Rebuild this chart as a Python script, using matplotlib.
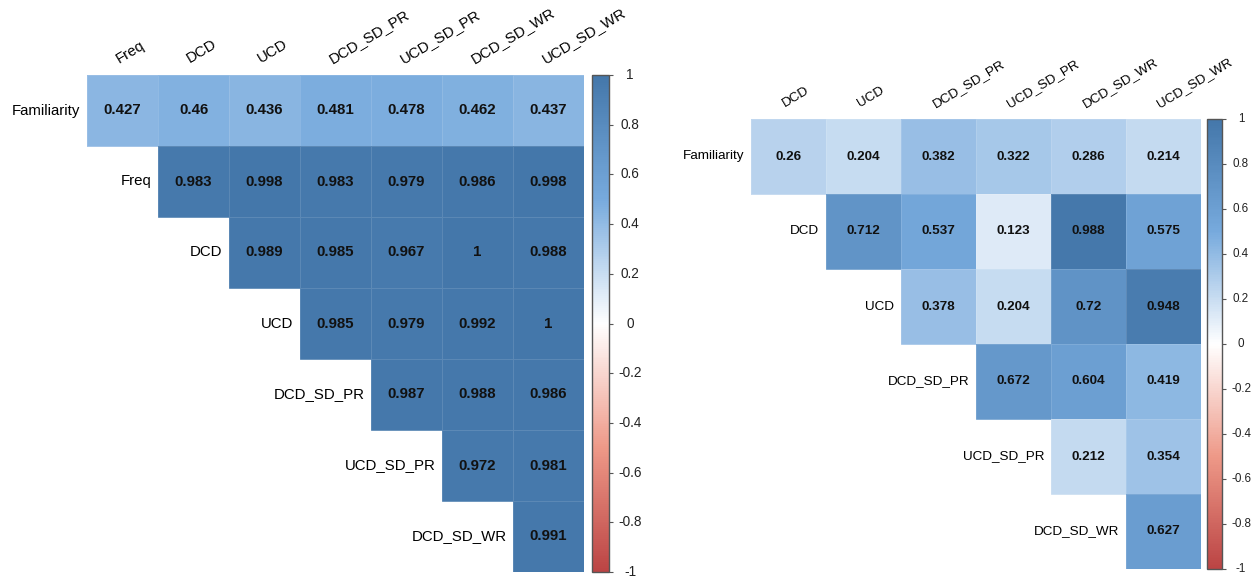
import numpy as np
import matplotlib
matplotlib.use("Agg")
import matplotlib.pyplot as plt
from matplotlib.colors import LinearSegmentedColormap, Normalize
from matplotlib.cm import ScalarMappable

plt.rcParams['font.family'] = ['Liberation Sans', 'DejaVu Sans']

# left matrix: upper triangle rows, each starting on the diagonal
left_rows = ['Familiarity', 'Freq', 'DCD', 'UCD', 'DCD_SD_PR', 'UCD_SD_PR', 'DCD_SD_WR']
left_cols = ['Freq', 'DCD', 'UCD', 'DCD_SD_PR', 'UCD_SD_PR', 'DCD_SD_WR', 'UCD_SD_WR']
left_vals = [
    [0.427, 0.46, 0.436, 0.481, 0.478, 0.462, 0.437],
    [0.983, 0.998, 0.983, 0.979, 0.986, 0.998],
    [0.989, 0.985, 0.967, 1, 0.988],
    [0.985, 0.979, 0.992, 1],
    [0.987, 0.988, 0.986],
    [0.972, 0.981],
    [0.991],
]

# right matrix
right_rows = ['Familiarity', 'DCD', 'UCD', 'DCD_SD_PR', 'UCD_SD_PR', 'DCD_SD_WR']
right_cols = ['DCD', 'UCD', 'DCD_SD_PR', 'UCD_SD_PR', 'DCD_SD_WR', 'UCD_SD_WR']
right_vals = [
    [0.26, 0.204, 0.382, 0.322, 0.286, 0.214],
    [0.712, 0.537, 0.123, 0.988, 0.575],
    [0.378, 0.204, 0.72, 0.948],
    [0.672, 0.604, 0.419],
    [0.212, 0.354],
    [0.627],
]

cbar_ticks = [-1, -0.8, -0.6, -0.4, -0.2, 0, 0.2, 0.4, 0.6, 0.8, 1]

cmap = LinearSegmentedColormap.from_list(
    'corr', ['#BB4444', '#EE9988', '#FFFFFF', '#77AADD', '#4477AA'], N=256)
norm = Normalize(-1, 1)

W, H = 1255, 577
fig = plt.figure(figsize=(W / 100, H / 100), dpi=100)


def px_axes(x, y, w, h):
    return fig.add_axes([x / W, (H - y - h) / H, w / W, h / H])


def corr_panel(ax_box, cbar_box, rows, cols, vals, fs, cb_fs, cb_off):
    n = len(rows)
    mat = np.full((n, n), np.nan)
    for i, r in enumerate(vals):
        mat[i, i:i + len(r)] = r
    ax = px_axes(*ax_box)
    ax.pcolormesh(np.ma.masked_invalid(mat), cmap=cmap, norm=norm,
                  edgecolors=(1, 1, 1, 0.12), linewidth=0.5)
    ax.set_xlim(0, n)
    ax.set_ylim(n, 0)
    ax.axis('off')
    for i, r in enumerate(vals):
        for k, v in enumerate(r):
            ax.text(i + k + 0.5, i + 0.5, f"{v:g}", ha='center', va='center',
                    fontsize=fs, fontweight='bold', color='#111111')
        ax.text(i - 0.09, i + 0.5, rows[i], ha='right', va='center',
                fontsize=fs, color='black')
    for j, c in enumerate(cols):
        ax.annotate(c, (j + 0.5, 0), xytext=(-2, 9), textcoords='offset pixels',
                    rotation=31, rotation_mode='anchor', ha='left', va='bottom',
                    fontsize=fs, color='black', annotation_clip=False)

    # colour legend with centred labels to the right
    cax = px_axes(*cbar_box)
    cb = fig.colorbar(ScalarMappable(norm=norm, cmap=cmap), cax=cax)
    cb.set_ticks(cbar_ticks)
    cb.set_ticklabels([])
    cb.outline.set_edgecolor('#555555')
    cb.outline.set_linewidth(1)
    cax.tick_params(direction='out', length=3, width=0.8, color='#555555')
    for t in cbar_ticks:
        cax.annotate(f"{t:g}", (1, t), xycoords=('axes fraction', 'data'),
                     xytext=(cb_off, 0), textcoords='offset pixels',
                     ha='center', va='center', fontsize=cb_fs, color='#222222',
                     annotation_clip=False)


corr_panel((87, 75, 497, 497), (592, 75, 17, 497),
           left_rows, left_cols, left_vals, 10.8, 9.8, 21)
corr_panel((751, 119, 450, 450), (1207, 119, 15, 450),
           right_rows, right_cols, right_vals, 9.7, 8.4, 19)

fig.savefig('out.png', dpi=100)
